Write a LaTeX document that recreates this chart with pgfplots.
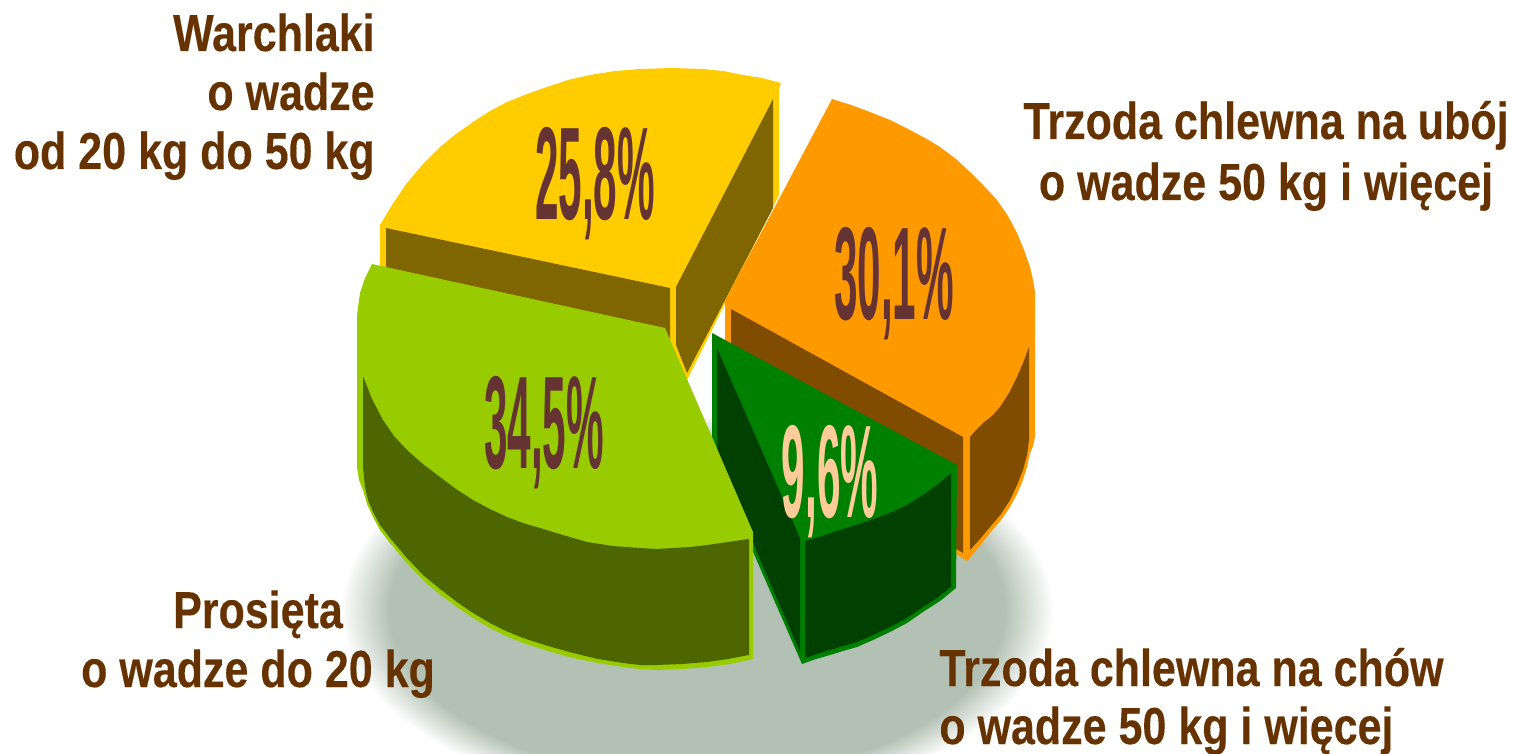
\documentclass[border=0pt]{standalone}
\usepackage{pgfplots}
\pgfplotsset{compat=1.18}
\usepackage{fontspec}
\setmainfont{Liberation Sans}
\newfontfamily\labfont{Liberation Sans Bold}[FakeBold=0.25]
\definecolor{yel}{HTML}{FFCC00}\definecolor{yeld}{HTML}{806600}
\definecolor{ora}{HTML}{FF9900}\definecolor{orad}{HTML}{804D00}
\definecolor{gre}{HTML}{008000}\definecolor{gred}{HTML}{004000}
\definecolor{lim}{HTML}{99CC00}\definecolor{limd}{HTML}{4D6600}
\definecolor{txt}{HTML}{663300}\definecolor{pct}{HTML}{663333}
\definecolor{pea}{HTML}{FFCC99}\definecolor{shd}{HTML}{B2C1B4}
\pgfdeclareradialshading{softshadow}{\pgfpointorigin}{color(0bp)=(shd);color(21.5bp)=(shd);color(25bp)=(white);color(50bp)=(white)}
\newcommand{\lab}[4]{\node[anchor=#1,xscale=0.827,text=txt,inner sep=0pt,font=\fontsize{26}{30}\selectfont\labfont] at (axis cs:#2,#3) {#4};}
\newcommand{\pc}[4]{\node[anchor=base,xscale=0.32,text=#4,inner sep=0pt,font=\fontsize{66}{70}\selectfont\bfseries] at (axis cs:#1,#2) {#3};}
\begin{document}
\begin{tikzpicture}
\begin{axis}[scale only axis,width=757pt,height=377pt,xmin=0,xmax=1514,ymin=0,ymax=754,y dir=reverse,hide axis,clip=true]
% shadow
\begin{scope}
\clip (axis cs:0,0) rectangle (axis cs:1514,754);
\shade[shading=softshadow] (axis cs:697,610) ellipse [x radius=357,y radius=195];
\end{scope}
% yellow slice (25.8)
\addplot[fill=yel,draw=none] coordinates {(380,225)(392,205)(407,183)(423,164)(440,147)(456,134)(473,122)(490,111)(507,102)(527,94)(547,87)(568,80)(590,75)(615,71)(640,69)(672,68)(703,69)(723,71)(743,75)(762,78)(781,83)(779,90)(779,195)(687,380)(670,345)(380,285)};
\addplot[fill=yeld,draw=none] coordinates {(386,228)(670,288)(670,345)(386,285)};
\addplot[fill=yeld,draw=none] coordinates {(773,99)(773,208)(687,373)(676,345)(676,287)};
% orange slice (30.1)
\addplot[fill=ora,draw=none] coordinates {(832,99)(851,105)(870,112)(890,120)(910,130)(925,138)(940,147)(956,159)(970,172)(984,186)(997,200)(1008,216)(1017,233)(1024,250)(1030,267)(1033,280)(1035,292)(1035,437)(1033,446)(1030,453)(1027,467)(1023,480)(1017,494)(1010,507)(1001,520)(990,533)(979,547)(967,561)(950,550)(725,345)(725,301)};
\addplot[fill=orad,draw=none] coordinates {(731,309)(963,437)(963,553)(950,545)(731,400)};
\addplot[fill=orad,draw=none] coordinates {(970,437)(976,430)(983,423)(992,416)(1000,407)(1009,393)(1017,377)(1023,363)(1029,347)(1029,440)(1027,455)(1023,470)(1017,485)(1010,500)(1001,514)(990,527)(980,539)(970,550)};
% dark-green slice (9.6)
\addplot[fill=gre,draw=none] coordinates {(712,333)(957,465)(956,588)(940,601)(923,612)(907,623)(890,632)(873,640)(857,647)(843,651)(830,655)(816,659)(802,664)(750,545)(712,450)};
\addplot[fill=gred,draw=none] coordinates {(717,348)(800,538)(800,652)(758,555)(717,450)};
\addplot[fill=gred,draw=none] coordinates {(805,541)(822,536)(840,530)(865,522)(890,513)(907,505)(923,495)(937,485)(951,473)(951,587)(937,598)(923,607)(907,618)(890,627)(873,635)(857,642)(843,646)(830,650)(817,654)(805,658)};
% light-green slice (34.5)
\addplot[fill=lim,draw=none] coordinates {(372,264)(665,328)(753,532)(753,659)(730,664)(707,667)(682,669)(657,670)(640,669)(623,667)(598,663)(573,658)(548,651)(523,643)(506,636)(490,628)(473,618)(457,607)(439,594)(423,580)(406,562)(390,543)(380,530)(373,517)(367,504)(363,490)(359,480)(357,467)(357,315)(360,293)(365,278)};
\addplot[fill=limd,draw=none] coordinates {(363,376)(372,399)(383,420)(394,436)(407,450)(423,464)(440,477)(456,489)(473,500)(490,509)(507,517)(523,523)(540,528)(563,535)(587,542)(613,546)(640,548)(657,549)(673,548)(690,547)(707,545)(728,542)(749,539)(749,655)(728,659)(707,662)(682,664)(657,665)(640,665)(623,663)(598,659)(573,653)(548,646)(523,638)(506,631)(490,623)(473,613)(457,602)(440,589)(423,575)(406,557)(390,538)(380,525)(373,512)(368,500)(365,487)(363,467)};
% percentages
\pc{595}{220}{25,8\%}{pct}
\pc{894}{319}{30,1\%}{pct}
\pc{544}{468}{34,5\%}{pct}
\pc{830}{517}{9,6\%}{pea}
% labels
\lab{base east}{375}{51}{Warchlaki}
\lab{base east}{375}{110}{o wadze}
\lab{base east}{375}{169}{od 20 kg do 50 kg}
\lab{base}{1266}{139}{Trzoda chlewna na ubój}
\lab{base}{1266}{200}{o wadze 50 kg i więcej}
\lab{base}{258}{628}{Prosięta}
\lab{base}{258}{687}{o wadze do 20 kg}
\lab{base west}{939}{686}{Trzoda chlewna na chów}
\lab{base west}{939}{744}{o wadze 50 kg i więcej}
\end{axis}
\end{tikzpicture}
\end{document}
